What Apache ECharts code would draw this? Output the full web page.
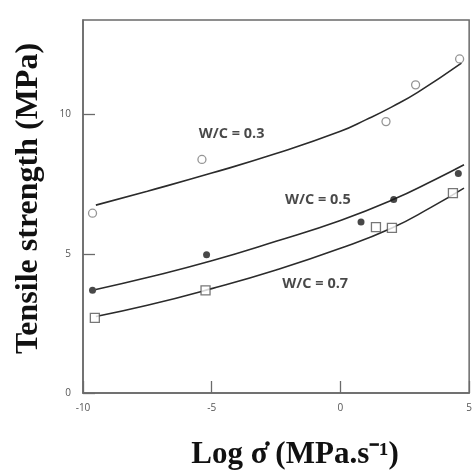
<!DOCTYPE html>
<html>
<head>
<meta charset="utf-8">
<script src="https://cdn.jsdelivr.net/npm/echarts@6/dist/echarts.min.js"></script>
<style>
  html, body { margin: 0; padding: 0; background: #fff; }
  #chart { width: 475px; height: 475px; }
</style>
</head>
<body>
<div id="chart"></div>
<script>
// measured points (log stress rate, tensile strength)
var pointsWC03 = [[-9.63, 6.46], [-5.38, 8.39], [1.77, 9.75], [2.92, 11.07], [4.63, 12.0]];
var pointsWC05 = [[-9.63, 3.69], [-5.2, 4.97], [0.8, 6.14], [2.07, 6.95], [4.58, 7.89]];
var pointsWC07 = [[-9.54, 2.7], [-5.24, 3.69], [1.38, 5.96], [2.0, 5.93], [4.37, 7.18]];

// fitted curves
var curveWC03 = [[-9.5, 6.75], [-7.5, 7.25], [-5, 7.9], [-2.5, 8.6], [0, 9.4], [1, 9.82], [2, 10.28], [3, 10.8], [4.7, 11.85]];
var curveWC05 = [[-9.5, 3.72], [-7.5, 4.15], [-5, 4.75], [-2.5, 5.45], [0, 6.2], [2, 6.93], [3.7, 7.68], [4.8, 8.2]];
var curveWC07 = [[-9.5, 2.75], [-7.5, 3.15], [-5, 3.75], [-2.5, 4.42], [0, 5.2], [2, 5.93], [3.5, 6.66], [4.8, 7.36]];

var xTicks = [-10, -5, 0, 5];
var yTicks = [0, 5, 10];

var chart = echarts.init(document.getElementById('chart'));

function curve(data) {
    return {
        type: 'line',
        data: data,
        smooth: true,
        showSymbol: false,
        silent: true,
        lineStyle: { color: '#2b2b2b', width: 1.6 },
        z: 2
    };
}

function tag(text, coord) {
    return {
        type: 'scatter',
        data: [coord],
        symbolSize: 0,
        silent: true,
        label: {
            show: true,
            position: 'inside',
            formatter: text,
            color: '#1a1a1a',
            fontFamily: 'Open Sans',
            fontWeight: 'bold',
            fontSize: 14.5
        }
    };
}

var option = {
    animation: false,
    grid: {
        left: 83, right: 2, top: 20, bottom: 79,
        show: true, borderColor: '#6a6a6a', borderWidth: 1.5
    },
    xAxis: {
        type: 'value',
        min: -10, max: 5, interval: 5,
        name: 'Log σ̇ (MPa.s⁻¹)',
        nameLocation: 'middle',
        nameGap: 46,
        nameTextStyle: {
            fontFamily: 'Liberation Serif', fontWeight: 'bold', fontSize: 31,
            color: '#111', padding: [0, 0, 0, 38]
        },
        splitLine: { show: false },
        axisLine: { onZero: false, lineStyle: { color: '#6a6a6a', width: 1.5 } },
        axisTick: { inside: true, length: 12, lineStyle: { color: '#6a6a6a', width: 1.3 } },
        axisLabel: {
            color: '#555', fontFamily: 'Open Sans', fontSize: 10, margin: 10,
            formatter: function (v) { return xTicks.indexOf(v) >= 0 ? String(v) : ''; }
        }
    },
    yAxis: {
        type: 'value',
        min: 0, max: 13.4, interval: 5,
        name: 'Tensile strength (MPa)',
        nameLocation: 'middle',
        nameGap: 38,
        nameTextStyle: {
            fontFamily: 'Liberation Serif', fontWeight: 'bold', fontSize: 32,
            color: '#111', padding: [0, 0, 0, 16]
        },
        splitLine: { show: false },
        axisLine: { onZero: false, lineStyle: { color: '#6a6a6a', width: 1.5 } },
        axisTick: { inside: true, length: 12, lineStyle: { color: '#6a6a6a', width: 1.3 } },
        axisLabel: {
            color: '#555', fontFamily: 'Open Sans', fontSize: 10, margin: 12,
            showMaxLabel: false,
            formatter: function (v) { return yTicks.indexOf(v) >= 0 ? String(v) : ''; }
        }
    },
    series: [
        curve(curveWC03),
        curve(curveWC05),
        curve(curveWC07),
        {
            type: 'scatter', data: pointsWC03, symbol: 'circle', symbolSize: 8,
            itemStyle: { color: '#fff', borderColor: '#7a7a7a', borderWidth: 1.3 }, z: 3
        },
        {
            type: 'scatter', data: pointsWC05, symbol: 'circle', symbolSize: 7,
            itemStyle: { color: '#1a1a1a' }, z: 3
        },
        {
            type: 'scatter', data: pointsWC07, symbol: 'rect', symbolSize: 9,
            itemStyle: { color: '#fff', borderColor: '#555', borderWidth: 1.3 }, z: 3
        },
        tag('W/C = 0.3', [-4.23, 9.32]),
        tag('W/C = 0.5', [-0.88, 6.93]),
        tag('W/C = 0.7', [-0.98, 3.93])
    ]
};

chart.setOption(option);
window.addEventListener('resize', function () {
    chart.resize();
});
</script>
</body>
</html>
